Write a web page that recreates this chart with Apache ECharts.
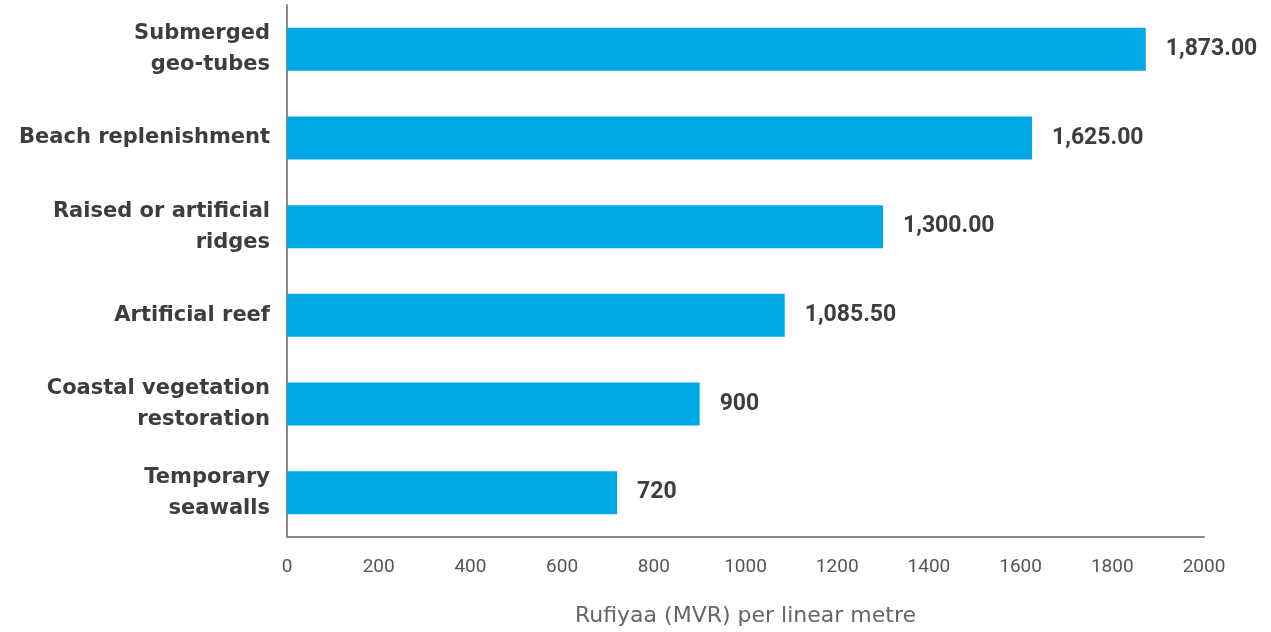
<!DOCTYPE html>
<html>
<head>
<meta charset="utf-8">
<style>html,body{margin:0;padding:0;background:#fff;}#c{width:1271px;height:632px;}</style>
<script src="https://cdn.jsdelivr.net/npm/echarts@6/dist/echarts.min.js"></script>
</head>
<body>
<div id="c"></div>
<script>
const categories = ["Submerged\ngeo-tubes", "Beach replenishment", "Raised or artificial\nridges", "Artificial reef", "Coastal vegetation\nrestoration", "Temporary\nseawalls"];
const values = [1873, 1625, 1300, 1085.5, 900, 720];
const valueLabels = ["1,873.00", "1,625.00", "1,300.00", "1,085.50", "900", "720"];
const xTicks = [0, 200, 400, 600, 800, 1000, 1200, 1400, 1600, 1800, 2000];
const xAxisName = "Rufiyaa (MVR) per linear metre";

const chart = echarts.init(document.getElementById('c'));
chart.setOption({
  animation: false,
  grid: {left: 287, right: 67, top: 5, bottom: 92, containLabel: false},
  xAxis: {
    type: 'value', min: xTicks[0], max: xTicks[xTicks.length - 1], interval: 200,
    name: xAxisName, nameLocation: 'middle', nameGap: 68,
    nameTextStyle: {color: '#666', fontSize: 22, fontFamily: 'DejaVu Sans'},
    axisLine: {show: true, lineStyle: {color: '#8a8a8a', width: 2}},
    axisTick: {show: false},
    splitLine: {show: false},
    axisLabel: {color: '#555', fontSize: 19, fontFamily: 'Roboto', margin: 21, formatter: v => String(v)}
  },
  yAxis: {
    type: 'category', data: categories.slice().reverse(),
    axisLine: {show: true, lineStyle: {color: '#8a8a8a', width: 2}},
    axisTick: {show: false},
    axisLabel: {color: '#3d3d3d', fontSize: 21, fontWeight: 'bold', fontFamily: 'DejaVu Sans', margin: 17, lineHeight: 31, align: 'right'}
  },
  series: [{
    type: 'bar',
    data: values.slice().reverse(),
    barWidth: 43,
    itemStyle: {color: '#00A9E6'},
    label: {
      show: true, position: 'right', distance: 20,
      color: '#3d3d3d', fontSize: 23, fontWeight: 'bold', fontFamily: 'Roboto',
      formatter: p => valueLabels[values.length - 1 - p.dataIndex]
    }
  }]
});
</script>
</body>
</html>
